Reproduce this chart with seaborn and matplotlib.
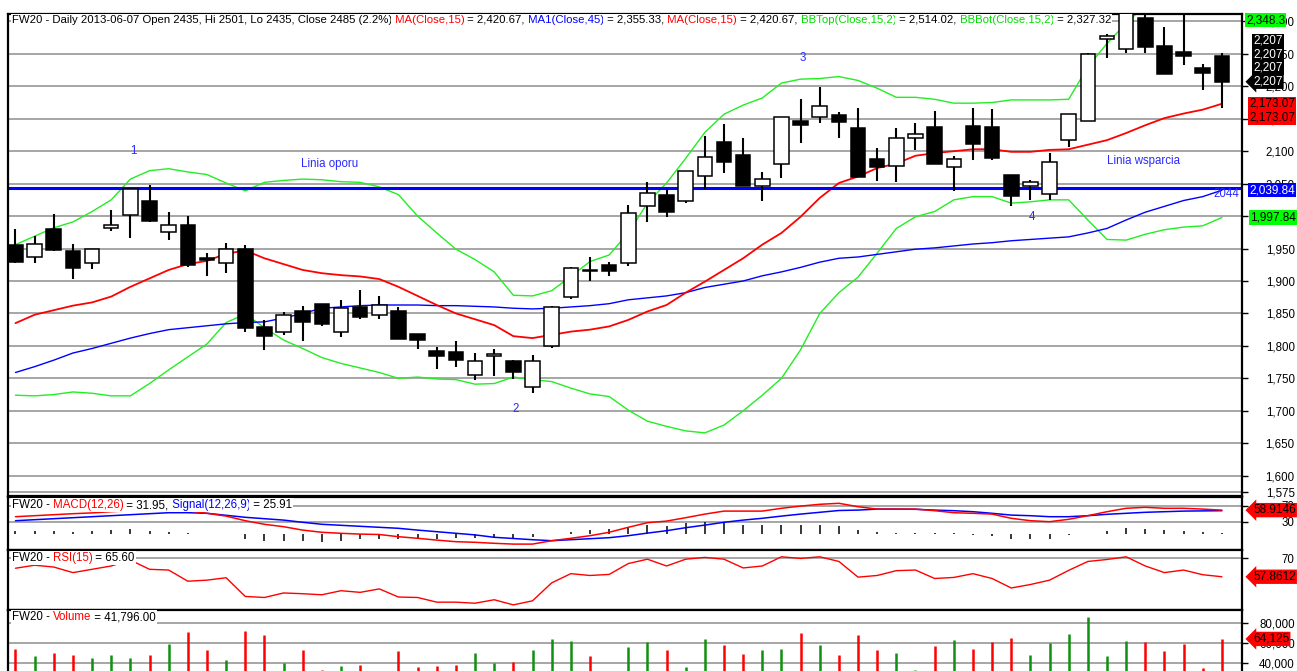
import numpy as np
import pandas as pd
import matplotlib
matplotlib.use('Agg')
import matplotlib.pyplot as plt
import seaborn as sns

# ---- data (64 daily sessions) ----
opens = [1956, 1937, 1980, 1946, 1928, 1981, 2002, 2024, 1976, 1987, 1936, 1928, 1950, 1829, 1822, 1853,
         1864, 1822, 1860, 1848, 1854, 1818, 1792, 1791, 1755, 1785, 1777, 1736, 1800, 1875, 1916, 1924,
         1927, 2016, 2032, 2023, 2062, 2114, 2094, 2047, 2080, 2147, 2153, 2156, 2135, 2088, 2077, 2121,
         2137, 2076, 2139, 2137, 2063, 2047, 2034, 2117, 2147, 2273, 2257, 2306, 2262, 2253, 2228, 2246]
highs = [1980, 1969, 2003, 1957, 1950, 2009, 2041, 2048, 2006, 2000, 1943, 1959, 1955, 1840, 1852, 1862,
         1865, 1871, 1886, 1877, 1860, 1819, 1799, 1808, 1789, 1795, 1779, 1786, 1861, 1921, 1937, 1929,
         2017, 2052, 2040, 2070, 2123, 2142, 2121, 2068, 2152, 2181, 2199, 2161, 2166, 2105, 2136, 2143,
         2162, 2093, 2167, 2165, 2063, 2056, 2097, 2158, 2252, 2281, 2340, 2320, 2291, 2310, 2235, 2251]
lows = [1928, 1928, 1946, 1903, 1918, 1977, 1967, 1991, 1963, 1922, 1907, 1913, 1821, 1794, 1817, 1807,
        1831, 1813, 1841, 1841, 1810, 1795, 1764, 1768, 1748, 1754, 1749, 1727, 1797, 1873, 1900, 1907,
        1923, 1991, 1999, 2020, 2041, 2066, 2046, 2024, 2058, 2112, 2144, 2120, 2060, 2054, 2053, 2102,
        2081, 2039, 2086, 2086, 2016, 2025, 2025, 2107, 2146, 2244, 2252, 2251, 2219, 2233, 2195, 2166]
closes = [1930, 1957, 1947, 1920, 1949, 1987, 2041, 1992, 1987, 1925, 1932, 1950, 1827, 1815, 1848, 1837,
          1834, 1858, 1845, 1863, 1810, 1809, 1784, 1779, 1777, 1787, 1759, 1777, 1860, 1920, 1915, 1916,
          2005, 2036, 2007, 2070, 2091, 2084, 2046, 2057, 2152, 2141, 2169, 2145, 2060, 2076, 2120, 2126,
          2081, 2088, 2111, 2090, 2031, 2053, 2084, 2158, 2249, 2278, 2330, 2261, 2219, 2247, 2220, 2207]

ma15 = [1835, 1848, 1855, 1862, 1867, 1876, 1891, 1904, 1917, 1926, 1931, 1942, 1947, 1935, 1926, 1917,
        1912, 1909, 1907, 1903, 1891, 1877, 1863, 1850, 1841, 1832, 1815, 1812, 1817, 1822, 1825, 1830,
        1840, 1853, 1863, 1882, 1899, 1917, 1935, 1956, 1974, 1999, 2028, 2051, 2061, 2074, 2081, 2093,
        2097, 2100, 2103, 2103, 2099, 2099, 2102, 2103, 2110, 2117, 2128, 2140, 2151, 2158, 2164, 2173.07]
ma45 = [1759, 1768, 1778, 1789, 1796, 1804, 1812, 1819, 1825, 1828, 1831, 1834, 1836, 1837, 1843, 1850,
        1858, 1860, 1862, 1863, 1863, 1863, 1862, 1862, 1861, 1860, 1858, 1857, 1858, 1860, 1862, 1865,
        1871, 1874, 1877, 1882, 1890, 1895, 1900, 1908, 1914, 1921, 1929, 1935, 1937, 1941, 1945, 1949,
        1951, 1954, 1957, 1959, 1962, 1964, 1966, 1968, 1974, 1981, 1994, 2006, 2015, 2024, 2030, 2039.84]
bb_top = [1956, 1969, 1982, 1991, 2007, 2025, 2057, 2070, 2073, 2068, 2064, 2051, 2039, 2052, 2055, 2057,
          2056, 2053, 2052, 2045, 2033, 2000, 1974, 1949, 1933, 1914, 1878, 1877, 1885, 1907, 1930, 1940,
          1974, 2020, 2051, 2089, 2129, 2157, 2171, 2182, 2205, 2211, 2212, 2215, 2209, 2197, 2183, 2183,
          2180, 2174, 2174, 2175, 2179, 2179, 2179, 2180, 2230, 2266, 2297, 2325, 2340, 2346, 2348, 2348.3]
bb_bot = [1724, 1723, 1725, 1729, 1727, 1723, 1723, 1742, 1763, 1783, 1803, 1836, 1849, 1828, 1809, 1796,
          1782, 1773, 1766, 1759, 1750, 1752, 1749, 1748, 1741, 1742, 1752, 1748, 1745, 1735, 1726, 1722,
          1701, 1684, 1676, 1669, 1666, 1678, 1700, 1724, 1750, 1794, 1850, 1882, 1906, 1943, 1981, 1999,
          2007, 2025, 2030, 2030, 2020, 2022, 2025, 2025, 1994, 1964, 1963, 1972, 1979, 1983, 1985, 1997.84]

macd = [42.5, 45, 47.5, 50, 52, 55, 57.5, 57.5, 57.5, 57.5, 51, 44, 32.5, 23.5, 17.5, 9,
        3.5, 1, -1, -2, -7.5, -11.5, -16, -20, -21.5, -24, -26, -26, -17.5, -11.5, -5, 3.5,
        16, 27.5, 31.5, 40, 49, 56.5, 56.5, 56.5, 63.5, 69, 73.5, 76, 67.5, 61.5, 61.5, 61.5,
        57.5, 52.5, 51, 49, 38.5, 32.5, 30, 36, 45, 55, 63.5, 66, 63.5, 63.5, 61.5, 58.91]
signal = [32.5, 35, 37.5, 40, 42.5, 45, 47.5, 50, 52.5, 52.5, 51, 46, 41, 37.5, 34, 28.5,
          23.5, 21, 18.5, 16, 13.5, 9, 5, 1, -3, -9, -12, -15, -17.5, -15, -12.5, -10,
          -5, 1.5, 7.5, 15, 21.5, 28.5, 34, 38.5, 44, 49, 53.5, 58, 59, 61.5, 61.5, 61,
          59, 57.5, 55, 51, 46.5, 45, 42.5, 42.5, 45, 48.5, 51, 53.5, 55, 56.5, 57, 57.5]
hist = [6.5, 6.5, 6.5, 5, 6.5, 9, 11, 8, 5, 1.5, 0.5, 0.5, -12.5, -18, -18, -18,
        -20, -18, -14, -14, -12.5, -12.5, -12.5, -11.5, -10, -10, -10, -8, -1, 4, 9, 12.5,
        17.5, 23, 20, 26, 29, 27.5, 21.5, 21.5, 21, 21, 21, 19, 8.5, 4, 1.5, 1.5,
        1.5, 1, -2, -6, -12, -13, -12, -4, 0, 6.5, 15, 12.5, 9, 6.5, 4, 1.5]
rsi = [63.5, 65.5, 64.3, 60.6, 62.8, 65, 68.9, 62.8, 62.3, 54.9, 55.6, 57.2, 44.8, 44.1, 47.1, 46.6,
       45.9, 48.6, 47.5, 49.8, 44.4, 44.1, 41, 41, 40.3, 42.6, 39.2, 41.9, 53.8, 59.9, 58.7, 59.4,
       66.6, 69.5, 65, 69.5, 70.7, 69.5, 63.7, 65, 71.1, 70, 71.1, 68, 57.6, 58.7, 61.9, 62.3,
       56.7, 57.4, 59.9, 56.7, 50.4, 52.7, 55.6, 62.1, 68, 69.3, 71.1, 65, 60.6, 62.3, 59.2, 57.86]
volume = [53500, 46600, 49700, 48000, 45000, 48000, 45000, 48000, 58700, 70700, 52500, 42900, 72000, 68600, 39800, 52500,
          32600, 37000, 38000, 29000, 51400, 36000, 37000, 38000, 49700, 39400, 41100, 52500, 63800, 61700, 46300, 31900,
          55900, 61000, 52500, 35300, 63800, 58300, 49100, 52500, 53500, 69700, 57600, 48000, 68600, 52500, 49700, 32500,
          56600, 62800, 53500, 61000, 65200, 48000, 60000, 69000, 86200, 46300, 62100, 61000, 51400, 59400, 34200, 64125]

support_level = 2044
price_ticks = [1575] + list(range(1600, 2301, 50))

df = pd.DataFrame({'idx': np.arange(len(closes)), 'open': opens, 'high': highs, 'low': lows,
                   'close': closes, 'ma15': ma15, 'ma45': ma45, 'bb_top': bb_top, 'bb_bot': bb_bot,
                   'macd': macd, 'signal': signal, 'hist': hist, 'rsi': rsi, 'volume': volume})

RED, BLUE, GREEN, TXT_GREEN = '#ff0000', '#0000ff', '#22ee22', '#00dd00'
FS = 8.3

sns.set_style('white')
plt.rcParams['font.family'] = ['Liberation Sans', 'DejaVu Sans']

W, H = 1297, 671
fig = plt.figure(figsize=(W / 100, H / 100), dpi=100)


def panel(top, bottom, left=8, right=1242):
    return fig.add_axes([left / W, 1 - bottom / H, (right - left) / W, (bottom - top) / H])


ax = panel(14, 496)
ax_macd = panel(497, 550)
ax_rsi = panel(550, 610)
ax_vol = panel(610, 671)

xlim = (-0.39, 64.05)

# ---- candles ----
up = df['close'] >= df['open']
body_lo = np.minimum(df['open'], df['close'])
body_h = np.maximum(np.abs(df['close'] - df['open']), 1.5)
ax.vlines(df['idx'], df['low'], df['high'], color='black', lw=1.5, zorder=3)
ax.bar(df['idx'], body_h, bottom=body_lo, width=0.76, color=np.where(up, 'white', 'black'),
       edgecolor='black', linewidth=1.1, zorder=4)

sns.lineplot(data=df, x='idx', y='bb_top', color=GREEN, lw=1.0, ax=ax, zorder=2)
sns.lineplot(data=df, x='idx', y='bb_bot', color=GREEN, lw=1.0, ax=ax, zorder=2)
sns.lineplot(data=df, x='idx', y='ma45', color=BLUE, lw=1.0, ax=ax, zorder=2)
sns.lineplot(data=df, x='idx', y='ma15', color=RED, lw=1.3, ax=ax, zorder=2)
ax.axhline(support_level, color=BLUE, lw=2.2, zorder=2)

ax.set_ylim(1568.7, 2311.4)
ax.set_yticks(price_ticks)
ax.set_yticklabels([f'{v:,.0f}' for v in price_ticks])

# blue annotations on the price panel
for s, xi, yv, ha in [('1', 6.14, 2100, 'center'), ('Linia oporu', 16.4, 2080, 'center'),
                      ('2', 26.1, 1703, 'center'), ('3', 41.1, 2244, 'center'),
                      ('4', 53.1, 1999, 'center'), ('Linia wsparcia', 58.9, 2085, 'center'),
                      ('2044', 63.9, 2034, 'right')]:
    ax.text(xi, yv, s, color='#2a2aff', fontsize=FS, ha=ha, va='center', zorder=5)

# ---- MACD ----
ax_macd.vlines(df['idx'], 0, df['hist'], color='black', lw=1.1)
sns.lineplot(data=df, x='idx', y='signal', color=BLUE, lw=1.1, ax=ax_macd)
sns.lineplot(data=df, x='idx', y='macd', color=RED, lw=1.1, ax=ax_macd)
ax_macd.set_ylim(-40.75, 91.75)
ax_macd.set_yticks([30, 70])

# ---- RSI ----
sns.lineplot(data=df, x='idx', y='rsi', color=RED, lw=1.0, ax=ax_rsi)
ax_rsi.set_ylim(35.8, 75.6)
ax_rsi.set_yticks([70])

# ---- Volume ----
ax_vol.vlines(df['idx'], 0, df['volume'], colors=np.where(up, '#109010', RED), lw=1.8)
ax_vol.set_ylim(31570, 93500)
ax_vol.set_yticks([40000, 60000, 80000])
ax_vol.set_yticklabels(['40,000', '60,000', '80,000'])

for a in (ax, ax_macd, ax_rsi, ax_vol):
    a.set_xlim(*xlim)
    a.set_xlabel('')
    a.set_ylabel('')
    a.set_xticks([])
    a.yaxis.tick_right()
    a.tick_params(axis='y', direction='out', length=4, width=1, pad=34, labelsize=FS, colors='black')
    for lab in a.get_yticklabels():
        lab.set_horizontalalignment('right')
    a.grid(axis='y', color='#a6a6a6', lw=1.4)
    a.set_axisbelow(True)
    for sp in a.spines.values():
        sp.set_color('black')
        sp.set_linewidth(1.6)
ax_vol.spines['bottom'].set_visible(False)


def rainbow(a, parts, dy_px, size=FS):
    prev = None
    for s, c in parts:
        kw = dict(color=c, fontsize=size, va='center', ha='left', zorder=8,
                  bbox=dict(fc='white', ec='none', pad=0.6))
        if prev is None:
            prev = a.annotate(s, xy=(0, 1), xycoords='axes fraction', xytext=(3.5 * 0.72, -dy_px * 0.72),
                              textcoords='offset points', **kw)
        else:
            prev = a.annotate(s, xy=(1, 0.5), xycoords=prev, xytext=(0, 0),
                              textcoords='offset points', **kw)


rainbow(ax, [('FW20 - Daily 2013-06-07 Open 2435, Hi 2501, Lo 2435, Close 2485 (2.2%)', 'black'),
             (' MA(Close,15)', RED), (' = 2,420.67,', 'black'),
             (' MA1(Close,45)', BLUE), (' = 2,355.33,', 'black'),
             (' MA(Close,15)', RED), (' = 2,420.67,', 'black'),
             (' BBTop(Close,15,2)', TXT_GREEN), (' = 2,514.02,', 'black'),
             (' BBBot(Close,15,2)', TXT_GREEN), (' = 2,327.32', 'black')], 6, size=8.2)
rainbow(ax_macd, [('FW20 - ', 'black'), ('MACD(12,26)', RED), (' = 31.95,', 'black'),
                  (' Signal(12,26,9)', BLUE), (' = 25.91', 'black')], 8)
rainbow(ax_rsi, [('FW20 - ', 'black'), ('RSI(15)', RED), (' = 65.60', 'black')], 8)
rainbow(ax_vol, [('FW20 - ', 'black'), ('Volume', RED), (' = 41,796.00', 'black')], 7)


def side_label(a, value, text, fc, tc, dx_px, dy_px=0, arrow=False):
    style = 'larrow,pad=0.1' if arrow else 'square,pad=0.1'
    a.annotate(text, xy=(1, value), xycoords=a.get_yaxis_transform(),
               xytext=(dx_px * 0.72, dy_px * 0.72), textcoords='offset points',
               ha='left', va='center', color=tc, fontsize=FS + 0.2, zorder=9,
               annotation_clip=False,
               bbox=dict(boxstyle=style, fc=fc, ec='none'))


side_label(ax, ax.get_ylim()[1], '2,348.3', '#00ff00', 'black', 4, -6)
for k in (41, 27, 14):
    side_label(ax, closes[-1], f'{closes[-1]:,}', 'black', 'white', 11, k)
side_label(ax, closes[-1], f'{closes[-1]:,}', 'black', 'white', 11, 0, arrow=True)
side_label(ax, ma15[-1], f'{ma15[-1]:,.2f}', RED, 'black', 7, 0)
side_label(ax, ma15[-1], f'{ma15[-1]:,.2f}', RED, 'black', 7, -14)
side_label(ax, ma45[-1], f'{ma45[-1]:,.2f}', BLUE, 'white', 7, 0)
side_label(ax, bb_bot[-1], f'{bb_bot[-1]:,.2f}', '#00ff00', 'black', 8, 0)
side_label(ax_macd, 58.9146, '58.9146', RED, 'black', 11, 0, arrow=True)
side_label(ax_rsi, 57.8612, '57.8612', RED, 'black', 11, 0, arrow=True)
side_label(ax_vol, volume[-1], f'{volume[-1]:,}', RED, 'black', 11, 0, arrow=True)

fig.savefig('out.png', dpi=100, facecolor='white')
